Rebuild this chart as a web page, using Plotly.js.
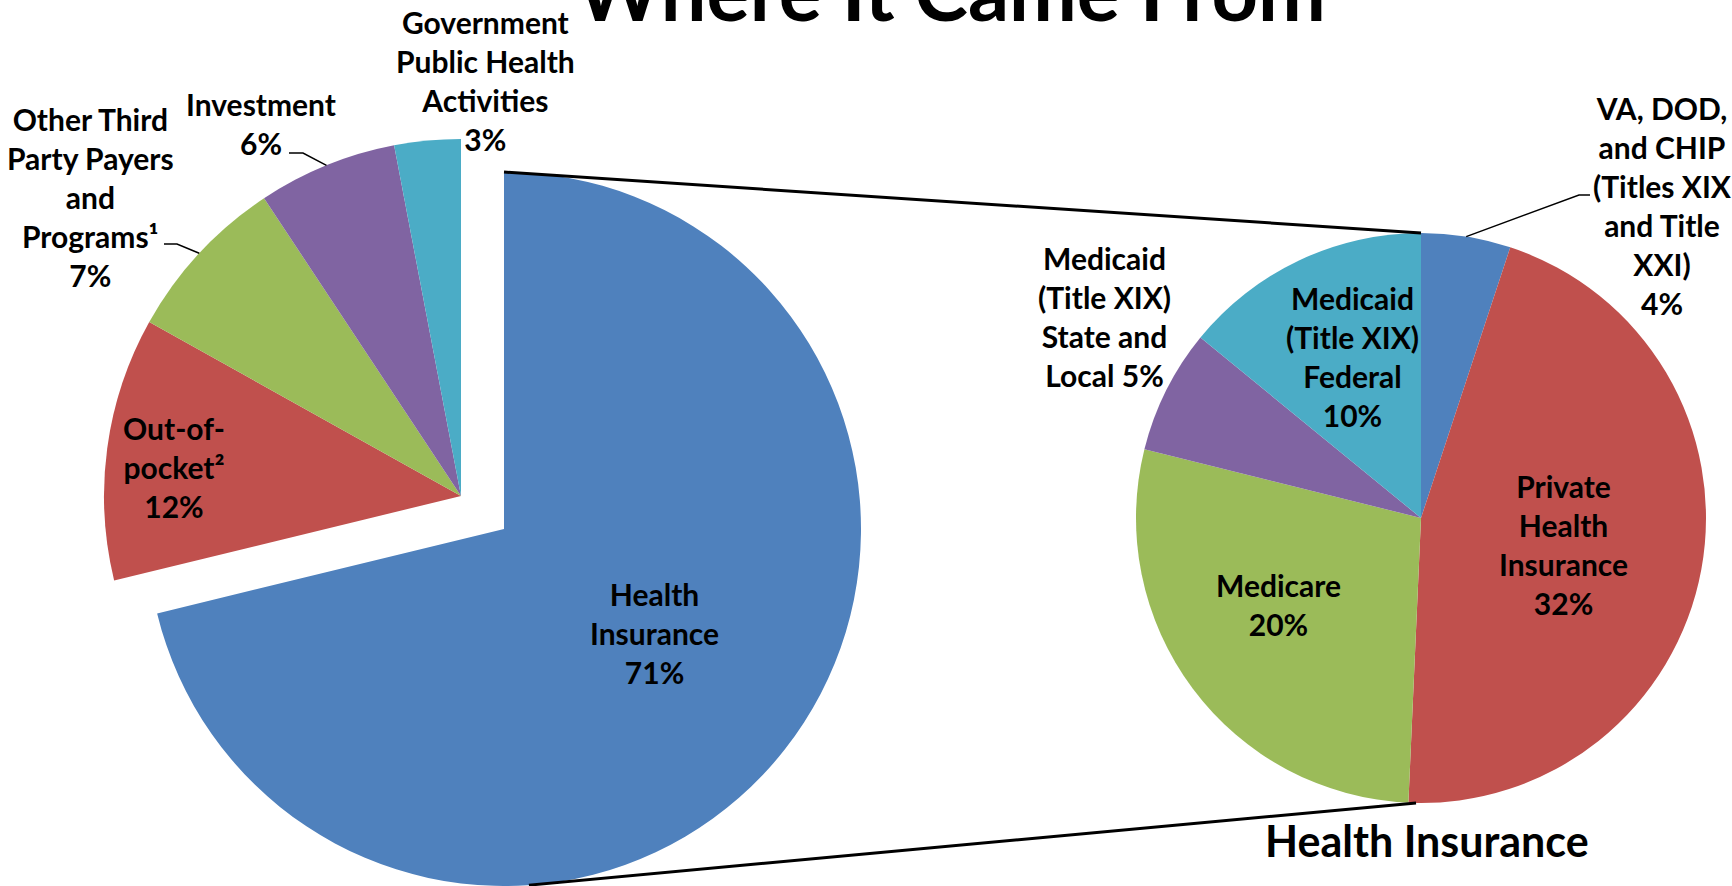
<!DOCTYPE html>
<html>
<head>
<meta charset="utf-8">
<script src="https://cdn.plot.ly/plotly-3.0.1.min.js"></script>
<style>
  html, body { margin: 0; padding: 0; background: #ffffff; }
  #chart { width: 1732px; height: 886px; }
</style>
</head>
<body>
<div id="chart"></div>
<script>
// ---------------- DATA ----------------
const mainCategories = ["Health Insurance", "Out-of-pocket²", "Other Third Party Payers and Programs¹", "Investment", "Government Public Health Activities"];
const mainValues = [71.2, 11.9, 7.6, 6.3, 3.0];
const mainPctLabels = ["71%", "12%", "7%", "6%", "3%"];
const mainLabelLines = ["Health<br>Insurance", "Out-of-<br>pocket²", "Other Third<br>Party Payers<br>and<br>Programs¹", "Investment", "Government<br>Public Health<br>Activities"];

const subCategories = ["VA, DOD, and CHIP (Titles XIX and Title XXI)", "Private Health Insurance", "Medicare", "Medicaid (Title XIX) State and Local", "Medicaid (Title XIX) Federal"];
const subValues = [3.6, 32.4, 20.0, 5.0, 10.0];
const subPctLabels = ["4%", "32%", "20%", "5%", "10%"];
const subLabelLines = ["VA, DOD,<br>and CHIP<br>(Titles XIX<br>and Title<br>XXI)", "Private<br>Health<br>Insurance", "Medicare", "Medicaid<br>(Title XIX)<br>State and<br>Local", "Medicaid<br>(Title XIX)<br>Federal"];

const chartTitle = "Where It Came From";
const subPieTitle = "Health Insurance";

// ---------------- STYLE / LAYOUT ----------------
const W = 1732, H = 886;
const sliceColors = ["#4F81BD", "#C0504D", "#9BBB59", "#8064A2", "#4BACC6"];
const clear = "rgba(0,0,0,0)";
const FONT = "Lato, 'Open Sans', sans-serif";

const leftPie = { cx: 461, cy: 496, r: 357 };
const explodeOffset = { dx: 43, dy: 33 };
const bluePie = { cx: leftPie.cx + explodeOffset.dx, cy: leftPie.cy + explodeOffset.dy, r: leftPie.r };
const rightPie = { cx: 1421, cy: 518, r: 285 };

const mainLabelPos = [[654, 633], [174, 467], [90, 197], [261, 123], [485, 81]];
const mainJoin = ["<br>", "<br>", "<br>", "<br>", "<br>"];
const subLabelPos = [[1662, 205], [1563, 544], [1278, 604], [1104, 316], [1352, 356]];
const subJoin = ["<br>", "<br>", "<br>", " ", "<br>"];

// leader lines: text-side points, then the arc midpoint of the slice
const mainLeaders = { 2: [[164, 244], [177, 244]], 3: [[289, 153], [303, 153]] };
const subLeaders = { 0: [[1590, 195], [1579, 195]] };

function px(x) { return x / W; }
function py(y) { return 1 - y / H; }
function domainFor(p) {
  return {
    x: [Math.max(0, px(p.cx - p.r)), Math.min(1, px(p.cx + p.r))],
    y: [Math.max(0, py(p.cy + p.r)), Math.min(1, py(p.cy - p.r))]
  };
}
function arcPoint(p, deg) {
  const a = deg * Math.PI / 180;
  return [p.cx + p.r * Math.sin(a), p.cy - p.r * Math.cos(a)];
}
function midAngle(values, i) {
  const tot = values.reduce((s, v) => s + v, 0);
  let cum = 0;
  for (let k = 0; k < i; k++) cum += values[k];
  return (cum + values[i] / 2) / tot * 360;
}

const pieBase = {
  type: "pie", sort: false, direction: "clockwise", rotation: 0,
  textinfo: "none", hoverinfo: "label+percent", showlegend: false
};

const traces = [
  Object.assign({}, pieBase, {
    labels: mainCategories, values: mainValues,
    marker: { colors: sliceColors.map((c, i) => i === 0 ? clear : c), line: { width: 0 } },
    domain: domainFor(leftPie)
  }),
  Object.assign({}, pieBase, {
    labels: mainCategories, values: mainValues,
    marker: { colors: sliceColors.map((c, i) => i === 0 ? c : clear), line: { width: 0 } },
    domain: domainFor(bluePie)
  }),
  Object.assign({}, pieBase, {
    labels: subCategories, values: subValues,
    marker: { colors: sliceColors, line: { width: 0 } },
    domain: domainFor(rightPie)
  })
];

const annotations = [];
const labelFont = { family: FONT, size: 30, color: "#000000", weight: 700 };
mainLabelLines.forEach((t, i) => {
  annotations.push({
    text: t + mainJoin[i] + mainPctLabels[i], xref: "paper", yref: "paper",
    x: px(mainLabelPos[i][0]), y: py(mainLabelPos[i][1]),
    xanchor: "center", yanchor: "middle", showarrow: false, align: "center", font: labelFont
  });
});
subLabelLines.forEach((t, i) => {
  annotations.push({
    text: t + subJoin[i] + subPctLabels[i], xref: "paper", yref: "paper",
    x: px(subLabelPos[i][0]), y: py(subLabelPos[i][1]),
    xanchor: "center", yanchor: "middle", showarrow: false, align: "center", font: labelFont
  });
});
annotations.push({
  text: subPieTitle, xref: "paper", yref: "paper",
  x: px(1427), y: py(840), xanchor: "center", yanchor: "middle", showarrow: false,
  font: { family: FONT, size: 43, color: "#000000", weight: 700 }
});

const shapes = [];
function pathFrom(points) {
  return points.map((p, k) => (k === 0 ? "M " : "L ") + px(p[0]).toFixed(5) + " " + py(p[1]).toFixed(5)).join(" ");
}
Object.keys(mainLeaders).forEach(k => {
  const i = +k;
  const pts = mainLeaders[k].concat([arcPoint(leftPie, midAngle(mainValues, i))]);
  shapes.push({ type: "path", xref: "paper", yref: "paper", path: pathFrom(pts), line: { color: "#000", width: 1.5 } });
});
Object.keys(subLeaders).forEach(k => {
  const i = +k;
  const pts = subLeaders[k].concat([arcPoint(rightPie, midAngle(subValues, i))]);
  shapes.push({ type: "path", xref: "paper", yref: "paper", path: pathFrom(pts), line: { color: "#000", width: 1.5 } });
});
// connector lines between the exploded slice and the breakdown pie
shapes.push({ type: "path", xref: "paper", yref: "paper",
  path: pathFrom([arcPoint(bluePie, 0), arcPoint(rightPie, 0)]), line: { color: "#000", width: 3 } });
shapes.push({ type: "path", xref: "paper", yref: "paper",
  path: pathFrom([arcPoint(bluePie, 176), arcPoint(rightPie, 181)]), line: { color: "#000", width: 3 } });

const layout = {
  width: W, height: H,
  margin: { l: 0, r: 0, t: 0, b: 0 },
  paper_bgcolor: "#ffffff", plot_bgcolor: "#ffffff",
  showlegend: false,
  title: {
    text: chartTitle, x: 951 / W, xanchor: "center", xref: "container",
    y: 1 - 21 / H, yanchor: "bottom", yref: "container",
    font: { family: FONT, size: 81, color: "#000000", weight: 700 }
  },
  annotations: annotations,
  shapes: shapes
};

Plotly.newPlot("chart", traces, layout, { displayModeBar: false, staticPlot: true });
</script>
</body>
</html>
